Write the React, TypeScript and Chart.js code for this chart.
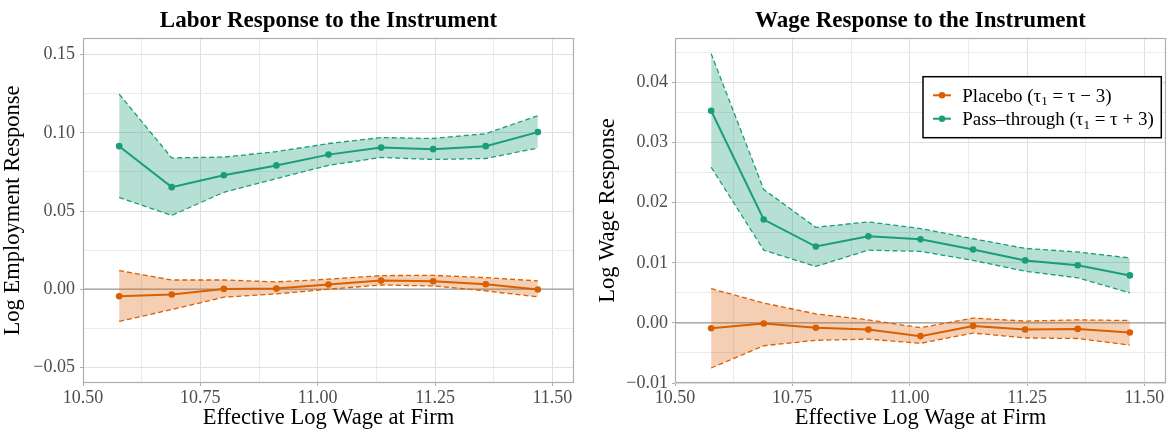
import React, { useEffect, useRef } from 'react';
import { Chart, registerables } from 'chart.js';

Chart.register(...registerables);

// ---------- data ----------
const xWage = [10.577, 10.689, 10.8, 10.912, 11.023, 11.135, 11.246, 11.358, 11.469];

const empPass = [0.0915, 0.0653, 0.0729, 0.0792, 0.0861, 0.0906, 0.0896, 0.0915, 0.1005];
const empPassHi = [0.1248, 0.084, 0.0845, 0.088, 0.0932, 0.097, 0.0964, 0.0995, 0.111];
const empPassLo = [0.0587, 0.0472, 0.062, 0.0708, 0.0792, 0.0843, 0.083, 0.0836, 0.0903];
const empPlacebo = [-0.0045, -0.0034, 0.0002, 0.0004, 0.003, 0.0055, 0.0051, 0.0032, -0.0002];
const empPlaceboHi = [0.0119, 0.0059, 0.0059, 0.0047, 0.0064, 0.0087, 0.0089, 0.0074, 0.0053];
const empPlaceboLo = [-0.0206, -0.013, -0.0051, -0.003, 0.0, 0.0027, 0.0021, -0.0011, -0.0049];

const wagePass = [0.0353, 0.0172, 0.0127, 0.0144, 0.0139, 0.0122, 0.0104, 0.0096, 0.0079];
const wagePassHi = [0.0448, 0.0222, 0.0159, 0.0168, 0.0157, 0.014, 0.0124, 0.0118, 0.0108];
const wagePassLo = [0.0259, 0.0121, 0.0094, 0.0121, 0.0119, 0.0104, 0.0086, 0.0075, 0.005];
const wagePlacebo = [-0.0009, -0.0001, -0.0008, -0.0011, -0.0022, -0.0005, -0.0011, -0.001, -0.0016];
const wagePlaceboHi = [0.0057, 0.0033, 0.0015, 0.0005, -0.0008, 0.0008, 0.0003, 0.0005, 0.0004];
const wagePlaceboLo = [-0.0075, -0.0038, -0.0029, -0.0027, -0.0034, -0.0017, -0.0025, -0.0026, -0.0037];

const xGrid = [10.5, 10.625, 10.75, 10.875, 11.0, 11.125, 11.25, 11.375, 11.5];
const xLabelStep = 0.25;
const xLimits = [10.5, 11.546];

const empGrid = [-0.05, -0.025, 0, 0.025, 0.05, 0.075, 0.1, 0.125, 0.15];
const empLabelStep = 0.05;
const empLimits = [-0.06, 0.1607];

const wageGrid = [-0.01, -0.005, 0, 0.005, 0.01, 0.015, 0.02, 0.025, 0.03, 0.035, 0.04, 0.045];
const wageLabelStep = 0.01;
const wageLimits = [-0.01, 0.0474];

const panelTitles = ['Labor Response to the Instrument', 'Wage Response to the Instrument'];
const yTitles = ['Log Employment Response', 'Log Wage Response'];
const xTitle = 'Effective Log Wage at Firm';
const legendPre = ['Placebo (\u03c4', 'Pass\u2013through (\u03c4'];
const legendSub = ['1', '1'];
const legendPost = [' = \u03c4 \u2212 3)', ' = \u03c4 + 3)'];

// ---------- styles ----------
const GREEN = '#1b9e77';
const ORANGE = '#d95f02';
const GREEN_FILL = 'rgba(27,158,119,0.32)';
const ORANGE_FILL = 'rgba(217,95,2,0.30)';
const SERIF = "'Liberation Serif', 'Times New Roman', Times, serif";
const MAJOR = '#dfdfdf';
const MINOR = '#ebebeb';
const TICK = '#4d4d4d';

const isMult = (v: number, step: number) => Math.abs(v / step - Math.round(v / step)) < 1e-6;
const fmt = (v: number) => (Math.abs(v) < 1e-9 ? 0 : v).toFixed(2).replace('-', '\u2212');

type PanelCfg = {
  pass: number[]; passHi: number[]; passLo: number[];
  placebo: number[]; placeboHi: number[]; placeboLo: number[];
  yGrid: number[]; yStep: number; yLimits: number[];
  title: string; yTitle: string;
  yAxisWidth: number; padRight: number; yTitlePad: number; yTickPad: number;
  legend: boolean;
};

const pts = (ys: number[]) => ys.map((y, i) => ({ x: xWage[i], y }));

function centerDs(ys: number[], color: string) {
  return {
    data: pts(ys), borderColor: color, backgroundColor: color, borderWidth: 2,
    pointRadius: 3.3, pointBackgroundColor: color, pointBorderWidth: 0,
    fill: false, tension: 0,
  };
}
function boundDs(ys: number[], color: string, fillColor: string, fill: number | false) {
  return {
    data: pts(ys), borderColor: color, backgroundColor: fillColor, borderWidth: 1.3,
    borderDash: [5, 3], pointRadius: 0, fill, tension: 0,
  };
}

function decor(cfg: PanelCfg) {
  return {
    id: 'decor',
    beforeDatasetsDraw(chart: any) {
      const { ctx, chartArea: a, scales } = chart;
      const py = scales.y.getPixelForValue(0);
      ctx.save();
      ctx.strokeStyle = '#9c9c9c';
      ctx.lineWidth = 1.3;
      ctx.beginPath();
      ctx.moveTo(a.left, py);
      ctx.lineTo(a.right, py);
      ctx.stroke();
      ctx.restore();
    },
    afterDraw(chart: any) {
      const { ctx, chartArea: a } = chart;
      ctx.save();
      // panel border
      ctx.strokeStyle = '#adadad';
      ctx.lineWidth = 1.2;
      ctx.strokeRect(a.left + 0.5, a.top + 0.5, a.right - a.left - 1, a.bottom - a.top - 1);
      // title
      ctx.fillStyle = '#000';
      ctx.font = `bold 23px ${SERIF}`;
      ctx.textAlign = 'center';
      ctx.textBaseline = 'alphabetic';
      ctx.fillText(cfg.title, (a.left + a.right) / 2, 27);
      // legend
      if (cfg.legend) {
        const bx = a.right - 243;
        const by = a.top + 38.7;
        const bw = 238.3;
        const bh = 61;
        ctx.fillStyle = '#fff';
        ctx.fillRect(bx, by, bw, bh);
        ctx.strokeStyle = '#000';
        ctx.lineWidth = 1.5;
        ctx.strokeRect(bx, by, bw, bh);
        const colors = [ORANGE, GREEN];
        for (let i = 0; i < 2; i++) {
          const cy = by + 18.6 + i * 23.4;
          ctx.strokeStyle = colors[i];
          ctx.lineWidth = 2;
          ctx.beginPath();
          ctx.moveTo(bx + 10, cy);
          ctx.lineTo(bx + 28, cy);
          ctx.stroke();
          ctx.fillStyle = colors[i];
          ctx.beginPath();
          ctx.arc(bx + 19, cy, 3.2, 0, Math.PI * 2);
          ctx.fill();
          const base = cy + 6.3;
          let tx = bx + 39.3;
          ctx.fillStyle = '#000';
          ctx.textAlign = 'left';
          ctx.textBaseline = 'alphabetic';
          ctx.font = `19px ${SERIF}`;
          ctx.fillText(legendPre[i], tx, base);
          tx += ctx.measureText(legendPre[i]).width;
          ctx.font = `13px ${SERIF}`;
          ctx.fillText(legendSub[i], tx, base + 3.5);
          tx += ctx.measureText(legendSub[i]).width;
          ctx.font = `19px ${SERIF}`;
          ctx.fillText(legendPost[i], tx, base);
        }
      }
      ctx.restore();
    },
  };
}

function buildConfig(cfg: PanelCfg): any {
  return {
    type: 'line',
    data: {
      datasets: [
        centerDs(cfg.placebo, ORANGE),
        centerDs(cfg.pass, GREEN),
        boundDs(cfg.placeboLo, ORANGE, ORANGE_FILL, false),
        boundDs(cfg.placeboHi, ORANGE, ORANGE_FILL, 2),
        boundDs(cfg.passLo, GREEN, GREEN_FILL, false),
        boundDs(cfg.passHi, GREEN, GREEN_FILL, 4),
      ],
    },
    options: {
      animation: false,
      responsive: false,
      maintainAspectRatio: false,
      events: [],
      layout: { padding: { top: 38, right: cfg.padRight, left: 0, bottom: 0 } },
      plugins: {
        legend: { display: false },
        tooltip: { enabled: false },
        title: { display: false },
        filler: { propagate: false },
      },
      scales: {
        x: {
          type: 'linear',
          min: xLimits[0],
          max: xLimits[1],
          afterBuildTicks: (s: any) => { s.ticks = xGrid.map((v) => ({ value: v })); },
          afterFit: (s: any) => { s.height = 49; },
          ticks: {
            autoSkip: false, maxRotation: 0, minRotation: 0, padding: 1.5, color: TICK,
            font: { family: SERIF, size: 18 },
            callback: (v: number) => (isMult(v, xLabelStep) ? fmt(v) : ''),
          },
          grid: {
            color: (c: any) => (isMult(c.tick.value, xLabelStep) ? MAJOR : MINOR),
            lineWidth: 1, drawTicks: true, tickLength: 3, tickWidth: 1,
            tickColor: (c: any) => (isMult(c.tick.value, xLabelStep) ? '#adadad' : 'rgba(0,0,0,0)'),
          },
          border: { display: false },
          title: {
            display: true, text: xTitle, color: '#000',
            font: { family: SERIF, size: 22.5 }, padding: { top: 0, bottom: 0.5 },
          },
        },
        y: {
          type: 'linear',
          min: cfg.yLimits[0],
          max: cfg.yLimits[1],
          afterBuildTicks: (s: any) => { s.ticks = cfg.yGrid.map((v) => ({ value: v })); },
          afterFit: (s: any) => { s.width = cfg.yAxisWidth; },
          ticks: {
            autoSkip: false, padding: cfg.yTickPad, color: TICK,
            font: { family: SERIF, size: 18 },
            callback: (v: number) => (isMult(v, cfg.yStep) ? fmt(v) : ''),
          },
          grid: {
            color: (c: any) => (isMult(c.tick.value, cfg.yStep) ? MAJOR : MINOR),
            lineWidth: 1, drawTicks: true, tickLength: 3, tickWidth: 1,
            tickColor: (c: any) => (isMult(c.tick.value, cfg.yStep) ? '#adadad' : 'rgba(0,0,0,0)'),
          },
          border: { display: false },
          title: {
            display: true, text: cfg.yTitle, color: '#000',
            font: { family: SERIF, size: 22.5 }, padding: { top: cfg.yTitlePad, bottom: 0 },
          },
        },
      },
    },
    plugins: [decor(cfg)],
  };
}

const leftCfg: PanelCfg = {
  pass: empPass, passHi: empPassHi, passLo: empPassLo,
  placebo: empPlacebo, placeboHi: empPlaceboHi, placeboLo: empPlaceboLo,
  yGrid: empGrid, yStep: empLabelStep, yLimits: empLimits,
  title: panelTitles[0], yTitle: yTitles[0],
  yAxisWidth: 83, padRight: 16, yTitlePad: 0, yTickPad: 5, legend: false,
};

const rightCfg: PanelCfg = {
  pass: wagePass, passHi: wagePassHi, passLo: wagePassLo,
  placebo: wagePlacebo, placeboHi: wagePlaceboHi, placeboLo: wagePlaceboLo,
  yGrid: wageGrid, yStep: wageLabelStep, yLimits: wageLimits,
  title: panelTitles[1], yTitle: yTitles[1],
  yAxisWidth: 85, padRight: 3, yTitlePad: 5, yTickPad: 4, legend: true,
};

function Panel(props: { left: number; width: number; cfg: PanelCfg }) {
  const ref = useRef<HTMLCanvasElement>(null);
  useEffect(() => {
    const chart = new Chart(ref.current as HTMLCanvasElement, buildConfig(props.cfg));
    return () => chart.destroy();
  }, []);
  return (
    <canvas
      ref={ref}
      width={props.width}
      height={432}
      style={{ position: 'absolute', left: props.left, top: 0, width: props.width, height: 432 }}
    />
  );
}

export default function App() {
  return (
    <div style={{ position: 'absolute', left: 0, top: 0, width: 1170, height: 432, background: '#fff', overflow: 'hidden' }}>
      <Panel left={0} width={590} cfg={leftCfg} />
      <Panel left={590} width={580} cfg={rightCfg} />
    </div>
  );
}
